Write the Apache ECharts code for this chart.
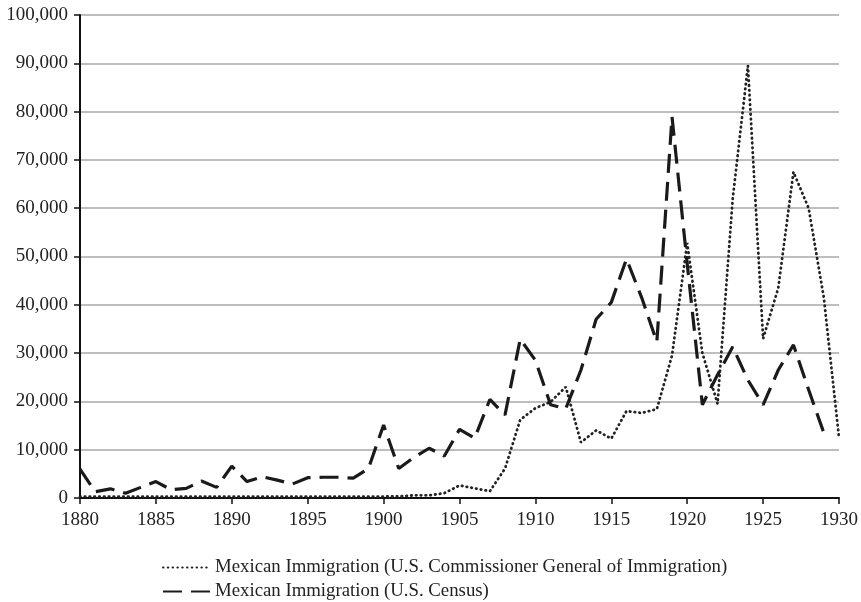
<!DOCTYPE html>
<html>
<head>
<meta charset="utf-8">
<script src="https://cdn.jsdelivr.net/npm/echarts@6/dist/echarts.min.js"></script>
<style>html,body{margin:0;padding:0;background:#fff}#c{width:861px;height:602px}</style>
</head>
<body>
<div id="c"></div>
<script>
const years = [];
for (let y = 1880; y <= 1930; y++) years.push(y);

const commissioner = [
  300, 300, 300, 300, 300, 300, 300, 300, 300, 300,
  300, 300, 300, 300, 300, 300, 300, 300, 300, 300,
  300, 350, 550, 550, 1000, 2600, 2000, 1400, 6100, 16200,
  18600, 19900, 23000, 11500, 14000, 12300, 18000, 17600, 18400, 29500,
  52800, 30000, 19500, 62000, 89500, 33000, 43500, 67500, 60000, 41500,
  12500
];

const census = [
  6000, 1300, 1900, 1000, 2200, 3400, 1700, 2000, 3500, 2200,
  6600, 3400, 4400, 3700, 2900, 4200, 4300, 4300, 4100, 6100,
  15100, 6100, 8400, 10300, 8700, 14200, 12400, 20400, 17200, 32900,
  28500, 19300, 18500, 26500, 37000, 40500, 49500, 41500, 32300, 78900,
  48500, 19300, 25500, 31300, 24400, 19300, 26500, 31700, 22400, 13500,
  null
];

const xTicks = [1880, 1885, 1890, 1895, 1900, 1905, 1910, 1915, 1920, 1925, 1930];
const seriesNames = [
  'Mexican Immigration (U.S. Commissioner General of Immigration)',
  'Mexican Immigration (U.S. Census)'
];

const font = 'Liberation Serif, Times New Roman, serif';
const legendBase = {
  orient: 'vertical', left: 157,
  itemWidth: 47, itemHeight: 14, itemGap: 5,
  itemStyle: {opacity: 0},
  textStyle: {fontFamily: font, fontSize: 18.8, color: '#222'}
};
const chart = echarts.init(document.getElementById('c'), null, {renderer: 'canvas'});
chart.setOption({
  animation: false,
  textStyle: {fontFamily: font},
  grid: {left: 80, right: 20, top: 15, bottom: 104, containLabel: false},
  xAxis: {
    type: 'value', min: 1880, max: 1930, interval: 5,
    axisLine: {show: true, lineStyle: {color: '#111', width: 2}},
    axisTick: {show: true, length: 6, lineStyle: {color: '#111', width: 1.5}},
    axisLabel: {color: '#222', fontSize: 19, fontFamily: font, margin: 13, formatter: v => String(v)},
    splitLine: {show: false}
  },
  yAxis: {
    type: 'value', min: 0, max: 100000, interval: 10000,
    axisLine: {show: true, lineStyle: {color: '#111', width: 2}},
    axisTick: {show: true, length: 6, lineStyle: {color: '#111', width: 1.5}},
    axisLabel: {color: '#222', fontSize: 19, fontFamily: font, margin: 12,
      formatter: v => v.toLocaleString('en-US')},
    splitLine: {show: true, lineStyle: {color: '#a8a8a8', width: 1.5}}
  },
  legend: [
    Object.assign({}, legendBase, {top: 553, data: [seriesNames[0]]}),
    Object.assign({}, legendBase, {top: 577, data: [seriesNames[1]]})
  ],
  series: [
    {
      name: seriesNames[0], type: 'line', showSymbol: false, symbol: 'none',
      data: years.map((y, i) => [y, commissioner[i]]),
      lineStyle: {color: '#222', width: 2.8, type: [0.5, 4.3], cap: 'round'},
      itemStyle: {color: '#222'}, z: 3
    },
    {
      name: seriesNames[1], type: 'line', showSymbol: false, symbol: 'none',
      data: years.map((y, i) => [y, census[i]]),
      lineStyle: {color: '#1a1a1a', width: 3.2, type: [19, 9]},
      itemStyle: {color: '#1a1a1a'}, z: 4
    }
  ]
});
</script>
</body>
</html>
